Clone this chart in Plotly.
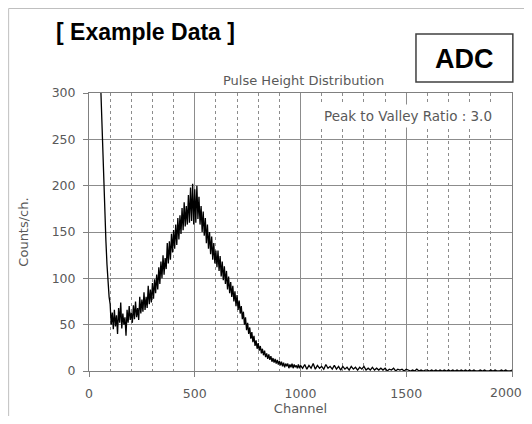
import plotly.graph_objects as go

# steep low-channel edge (explicit channels)
head_ch = [40, 45, 50, 55, 60, 63, 66, 68, 70, 75, 80, 85, 90, 95]
head_counts = [900, 600, 420, 310, 272, 258, 250, 228, 200, 168, 140, 115, 95, 80]

# channels 100..1000, every 5 channels
mid_start, mid_step = 100, 5
mid_counts = [
    72, 50, 63, 45, 66, 48, 60, 40, 68, 52, 74, 46, 62, 50, 58, 38, 66, 52, 70, 55, 63,
    52, 71, 56, 75, 58, 68, 55, 80, 62, 77, 64, 85, 66, 80, 68, 92, 72, 88, 74, 95,
    78, 99, 84, 104, 88, 112, 94, 118, 100, 125, 104, 122, 110, 138, 116, 140, 120, 148, 128, 152,
    132, 158, 136, 165, 142, 168, 148, 176, 152, 182, 156, 178, 158, 190, 160, 198, 162, 202, 158, 196,
    160, 200, 164, 188, 158, 178, 150, 172, 146, 165, 138, 158, 132, 150, 126, 145, 120, 138, 116, 130,
    112, 130, 108, 124, 102, 118, 98, 113, 94, 108, 88, 102, 84, 96, 80, 92, 75, 86, 70, 82,
    66, 76, 62, 70, 56, 64, 50, 58, 44, 52, 40, 47, 35, 42, 31, 38, 27, 33, 24, 30,
    22, 27, 19, 24, 17, 22, 15, 19, 13, 18, 12, 16, 10, 14, 9, 13, 8, 12, 7, 11,
    6, 10, 5, 9, 4, 8, 5, 8, 3, 7, 4, 8, 3, 7, 4, 6, 3, 7, 3, 6,
]

# channels 1010..2000, every 10 channels
tail_start, tail_step = 1010, 10
tail_counts = [
    3, 7, 2, 6, 3, 8, 2, 6, 3, 5, 2, 7, 3, 5, 2, 6, 2, 5, 1, 5,
    2, 4, 1, 5, 2, 4, 1, 4, 2, 5, 1, 3, 1, 4, 1, 3, 1, 3, 1, 3,
    0, 2, 1, 3, 0, 2, 1, 2, 0, 2,
    1, 0, 1, 0, 2, 0, 1, 0, 1, 1, 0, 1, 0, 1, 0, 1, 0, 1, 0, 1,
    0, 1, 0, 1, 0, 1, 0, 1, 0, 1, 0, 1, 0, 0, 1, 0, 1, 0, 0, 1,
    0, 1, 0, 0, 1, 0, 1, 0, 0, 1,
]

channels = (head_ch
            + [mid_start + mid_step * i for i in range(len(mid_counts))]
            + [tail_start + tail_step * i for i in range(len(tail_counts))])
counts = head_counts + mid_counts + tail_counts

x_ticks = [0, 500, 1000, 1500, 2000]
x_labels = ["0", "500", "1000", "1500", ""]   # last label drawn separately so it is not clipped
y_ticks = [0, 50, 100, 150, 200, 250, 300]

GRAY_TXT = "#595959"
FONT = "DejaVu Sans"

fig = go.Figure(go.Scatter(
    x=channels, y=counts, mode="lines",
    line=dict(color="black", width=1.3),
    showlegend=False, hoverinfo="x+y",
))

# page body adds an 8px margin, so the figure sits 8px in from the window edge
fig.update_layout(
    width=524, height=408,
    margin=dict(l=81, r=20, t=85, b=45),
    paper_bgcolor="white", plot_bgcolor="white",
    font=dict(family=FONT, size=12, color=GRAY_TXT),
    annotations=[
        dict(text="Pulse Height Distribution", x=0.508, y=1.046, xref="paper", yref="paper",
             yanchor="middle", showarrow=False, font=dict(size=13, color=GRAY_TXT)),
        dict(text="Peak to Valley Ratio : 3.0", x=0.962, y=0.918, xref="paper", yref="paper",
             xanchor="right", yanchor="middle", showarrow=False, bgcolor="white", borderpad=3,
             font=dict(size=13.5, color=GRAY_TXT)),
        dict(text="<b>[ Example Data ]</b>", x=-0.083, y=1.220, xref="paper", yref="paper",
             xanchor="left", yanchor="middle", showarrow=False,
             font=dict(family="Liberation Sans", size=23, color="black")),
        dict(text="<b>ADC</b>", x=0.887, y=1.124, xref="paper", yref="paper",
             xanchor="center", yanchor="middle", showarrow=False,
             font=dict(family="Liberation Sans", size=27, color="black")),
        dict(text=str(x_ticks[-1]), x=x_ticks[-1], y=-0.079, xref="x", yref="paper",
             xanchor="right", yanchor="middle", xshift=12, showarrow=False,
             font=dict(size=12.5, color=GRAY_TXT)),
    ],
    shapes=[
        dict(type="rect", xref="paper", yref="paper", x0=0.773, x1=1.002, y0=1.040, y1=1.212,
             line=dict(color="#404040", width=1.5)),
        dict(type="line", xref="paper", yref="paper", x0=-0.19, x1=1.1, y0=1.304, y1=1.304,
             line=dict(color="#bfbfbf", width=1)),
        dict(type="line", xref="paper", yref="paper", x0=-0.19, x1=-0.19, y0=1.304, y1=-0.2,
             line=dict(color="#bfbfbf", width=1)),
    ],
)

fig.update_xaxes(
    range=[0, 2000], tickvals=x_ticks, ticktext=x_labels,
    ticks="outside", ticklen=5, tickcolor="#808080",
    ticklabelstandoff=6, ticklabeloverflow="allow", automargin=False,
    showgrid=True, gridcolor="#8c8c8c", gridwidth=1,
    minor=dict(dtick=100, showgrid=True, griddash="dot", gridcolor="#8c8c8c", gridwidth=1),
    showline=True, linecolor="#808080", linewidth=1, mirror=True, zeroline=False,
    title=dict(text="Channel", font=dict(size=13, color=GRAY_TXT), standoff=9),
    tickfont=dict(size=12.5, color=GRAY_TXT),
)
fig.update_yaxes(
    range=[0, 300], tickvals=y_ticks, ticks="outside", ticklen=5, tickcolor="#808080",
    ticklabelstandoff=5, automargin=False,
    showgrid=True, gridcolor="#8c8c8c", gridwidth=1,
    showline=True, linecolor="#808080", linewidth=1, mirror=True, zeroline=False,
    title=dict(text="Counts/ch.", font=dict(size=13, color=GRAY_TXT), standoff=20),
    tickfont=dict(size=12.5, color=GRAY_TXT),
)

fig.write_html("out.html")
